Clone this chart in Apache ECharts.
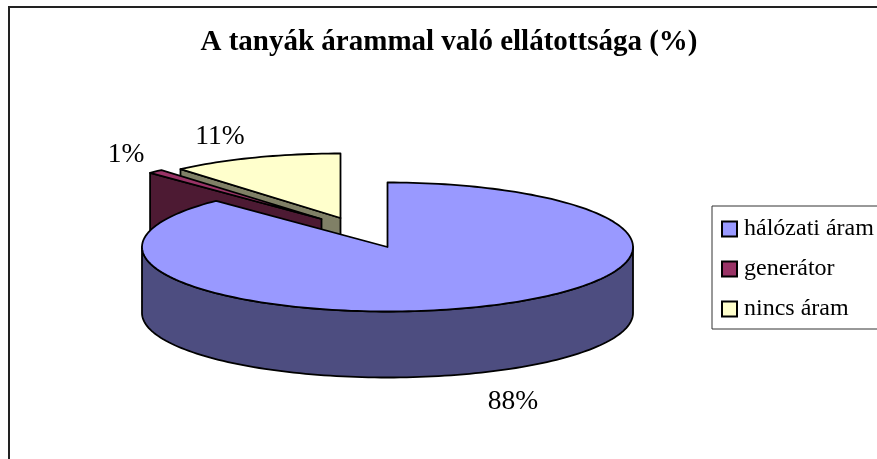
<!DOCTYPE html>
<html><head><meta charset="utf-8">
<style>html,body{margin:0;padding:0;background:#fff}#c{width:877px;height:459px}</style>
<script src="https://cdn.jsdelivr.net/npm/echarts@6/dist/echarts.min.js"></script>
</head><body><div id="c"></div>
<script>
const categories = ['hálózati áram', 'generátor', 'nincs áram'];
const values = [87.7, 1.0, 11.3];
const titleText = 'A tanyák árammal való ellátottsága (%)';

const FONT = '"Liberation Serif","Times New Roman",serif';
const topColors = ['#9999FF', '#993366', '#FFFFCC'];
const sideColors = ['#4D4D80', '#4D1A33', '#808066'];
const PIE = { cx: 387.5, cy: 247, rx: 245.5, ry: 64.5, depth: 66 };
const explode = [[0, 0], [-66, -28], [-47, -29]];
const labelPos = [[513, 402], [126, 155], [220, 137]];
const drawOrder = [2, 1, 0];

const total = values.reduce((a, b) => a + b, 0);
const starts = [];
values.reduce((acc, v, i) => { starts[i] = acc; return acc + v; }, 0);

function pt(ox, oy, deg, dz) {
  const a = deg * Math.PI / 180;
  return [ox + PIE.rx * Math.sin(a), oy - PIE.ry * Math.cos(a) + (dz || 0)];
}
function arc(ox, oy, a0, a1, dz) {
  const n = Math.max(2, Math.ceil((a1 - a0) / 1.5));
  const out = [];
  for (let i = 0; i <= n; i++) out.push(pt(ox, oy, a0 + (a1 - a0) * i / n, dz));
  return out;
}
const line = { stroke: '#000', lineWidth: 1.8, lineJoin: 'round' };
function poly(points, fill) {
  return { type: 'polygon', shape: { points }, style: Object.assign({ fill }, line) };
}
function makeRender(idx) {
  return function (params, api) {
    const v = api.value(0);
    const a0 = starts[idx] / total * 360;
    const a1 = a0 + v / total * 360;
    const ox = PIE.cx + explode[idx][0], oy = PIE.cy + explode[idx][1];
    const d = PIE.depth, side = sideColors[idx], children = [];
    const wall = a => {
      const e = pt(ox, oy, a);
      children.push(poly([[ox, oy], e, [e[0], e[1] + d], [ox, oy + d]], side));
    };
    if (Math.sin(a0 * Math.PI / 180) < -0.001) wall(a0);
    if (Math.sin(a1 * Math.PI / 180) > 0.001) wall(a1);
    const f0 = Math.max(a0, 90), f1 = Math.min(a1, 270);
    if (f1 > f0) {
      children.push(poly(arc(ox, oy, f0, f1, 0).concat(arc(ox, oy, f0, f1, d).reverse()), side));
    }
    children.push(poly([[ox, oy]].concat(arc(ox, oy, a0, a1, 0)), topColors[idx]));
    children.push({
      type: 'text',
      style: {
        text: Math.round(v / total * 100) + '%',
        x: labelPos[idx][0], y: labelPos[idx][1],
        align: 'center', verticalAlign: 'middle',
        font: '27.5px ' + FONT, fill: '#000'
      }
    });
    return { type: 'group', children };
  };
}
const chart = echarts.init(document.getElementById('c'), null, { renderer: 'canvas' });
chart.setOption({
  animation: false,
  backgroundColor: '#fff',
  title: {
    text: titleText, left: 444, top: 23, textAlign: 'center',
    textStyle: { fontFamily: FONT, fontWeight: 'bold', fontSize: 29, color: '#000' }
  },
  legend: {
    data: categories, orient: 'vertical', left: 712, top: 206,
    padding: [11, 40, 8, 9], itemGap: 16, itemWidth: 15, itemHeight: 15,
    borderColor: '#333', borderWidth: 1, icon: 'rect', selectedMode: false,
    textStyle: { fontFamily: FONT, fontSize: 24, color: '#000', padding: [0, 0, 0, 2], lineHeight: 24 }
  },
  graphic: [{
    type: 'rect', silent: true, z: -1,
    shape: { x: 9, y: 7, width: 900, height: 500 },
    style: { fill: 'none', stroke: '#222', lineWidth: 2 }
  }],
  series: drawOrder.map(i => ({
    type: 'custom',
    name: categories[i],
    coordinateSystem: 'none',
    renderItem: makeRender(i),
    data: [[values[i]]],
    itemStyle: { color: topColors[i], borderColor: '#000', borderWidth: 1.8 },
    silent: true
  }))
});
</script></body></html>
